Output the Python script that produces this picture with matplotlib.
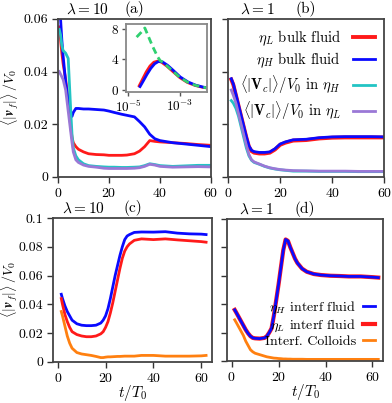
import numpy as np
import matplotlib
matplotlib.use('Agg')
import matplotlib.pyplot as plt
from matplotlib.ticker import FuncFormatter, NullLocator

plt.rcParams['font.family'] = 'serif'
plt.rcParams['font.serif'] = ['cmr10']
plt.rcParams['mathtext.fontset'] = 'cm'
plt.rcParams['axes.formatter.use_mathtext'] = True
plt.rcParams['font.size'] = 10

# colours
RED = '#ff1a1a'
BLUE = '#0a0aff'
CYAN = '#22c4c4'
PURP = '#9a78d6'
ORNG = '#ff8010'
GREEN = '#30d070'

# (a) lambda = 10, bulk
t_a = [0.5, 1, 1.5, 2, 3, 4, 5, 5.5, 6, 7, 8, 10, 12, 15, 18, 20, 22, 25, 27, 30, 32, 34, 36, 38, 40, 45, 50, 55, 60]
etaH_a = [0.066, 0.060, 0.052, 0.046, 0.036, 0.029, 0.0235, 0.023, 0.0245, 0.026, 0.026, 0.0258, 0.0258, 0.0256, 0.0254,
          0.025, 0.0245, 0.0238, 0.0234, 0.0228, 0.021, 0.019, 0.0162, 0.0145, 0.0138, 0.013, 0.0125, 0.012, 0.0115]
etaL_a = [0.057, 0.052, 0.047, 0.043, 0.037, 0.029, 0.019, 0.015, 0.013, 0.0115, 0.0105, 0.0095, 0.0088, 0.0085, 0.0084,
          0.0082, 0.0082, 0.0082, 0.0083, 0.0088, 0.0098, 0.0115, 0.0138, 0.0135, 0.0133, 0.013, 0.0127, 0.0123, 0.012]
VcH_a = [0.056, 0.054, 0.050, 0.048, 0.047, 0.045, 0.025, 0.016, 0.011, 0.008, 0.0065, 0.005, 0.0043, 0.004, 0.0038,
         0.0037, 0.0037, 0.0036, 0.0036, 0.0037, 0.0038, 0.0043, 0.005, 0.0047, 0.0043, 0.004, 0.0042, 0.0044, 0.0044]
VcL_a = [0.040, 0.039, 0.038, 0.037, 0.033, 0.025, 0.017, 0.013, 0.0095, 0.0065, 0.0055, 0.0045, 0.004, 0.0037, 0.0033,
         0.0032, 0.0032, 0.0032, 0.0032, 0.0033, 0.0035, 0.004, 0.0048, 0.0045, 0.004, 0.0037, 0.0038, 0.0039, 0.0038]

# inset of (a)
lx_ins = [-4.57, -4.45, -4.3, -4.15, -4.0, -3.85, -3.7, -3.5, -3.3, -3.0, -2.7, -2.4, -2.1, -1.9]
red_ins = [0.5, 1.3, 2.3, 3.1, 3.6, 3.75, 3.6, 3.1, 2.5, 1.6, 0.95, 0.55, 0.3, 0.2]
blue_ins = [0.4, 1.1, 2.0, 2.8, 3.4, 3.7, 3.65, 3.2, 2.6, 1.65, 1.0, 0.58, 0.32, 0.22]
lx_green = [-4.67, -4.5, -4.35, -4.25, -4.15, -4.05, -3.95, -3.85, -3.75, -3.65, -3.5, -3.3, -3.0, -2.7, -2.4, -2.1, -1.9]
green_ins = [6.9, 7.5, 8.1, 7.3, 6.5, 5.7, 5.0, 4.3, 3.8, 3.6, 3.15, 2.55, 1.65, 1.0, 0.58, 0.32, 0.22]

# (b) lambda = 1, bulk
t_b = [1.2, 2, 3, 4, 5, 6, 7, 8, 9, 10, 12, 14, 16, 18, 20, 22, 25, 30, 35, 40, 45, 50, 55, 60]
etaL_b = [0.037, 0.035, 0.031, 0.027, 0.023, 0.019, 0.015, 0.0115, 0.0098, 0.0092, 0.0089, 0.0089, 0.0092, 0.0104, 0.0122,
          0.013, 0.0138, 0.014, 0.0146, 0.0149, 0.015, 0.015, 0.015, 0.015]
etaH_b = [0.0373, 0.0353, 0.0313, 0.0273, 0.0233, 0.0193, 0.0153, 0.0118, 0.0101, 0.0096, 0.0093, 0.0093, 0.0095, 0.0107,
          0.0125, 0.0133, 0.0141, 0.0143, 0.0149, 0.0152, 0.0153, 0.0153, 0.0153, 0.0152]
VcH_b = [0.029, 0.028, 0.026, 0.023, 0.019, 0.015, 0.011, 0.008, 0.0063, 0.0055, 0.0048, 0.004, 0.0034, 0.003, 0.0027,
         0.0025, 0.0022, 0.0022, 0.0021, 0.0021, 0.0021, 0.002, 0.002, 0.002]
VcL_b = [0.033, 0.031, 0.028, 0.024, 0.020, 0.016, 0.012, 0.0085, 0.0065, 0.0057, 0.0049, 0.0041, 0.0035, 0.0031, 0.0028,
         0.0026, 0.0024, 0.0023, 0.0022, 0.0022, 0.0022, 0.0021, 0.0021, 0.0021]

# (c) lambda = 10, interface
t_c = [1.5, 2, 3, 4, 5, 6, 8, 10, 12, 14, 16, 18, 19, 20, 21, 22, 23, 24, 25, 26, 27, 28, 29, 30, 32, 35, 40, 45, 50, 55, 60, 62]
etaH_c = [0.047, 0.044, 0.039, 0.035, 0.032, 0.029, 0.0265, 0.0255, 0.0252, 0.0252, 0.0255, 0.027, 0.029, 0.032, 0.037,
          0.044, 0.052, 0.060, 0.067, 0.074, 0.080, 0.085, 0.0875, 0.0885, 0.090, 0.0903, 0.0902, 0.0905, 0.0895, 0.089,
          0.0888, 0.0885]
etaL_c = [0.044, 0.040, 0.033, 0.028, 0.024, 0.021, 0.019, 0.018, 0.0175, 0.0175, 0.018, 0.0195, 0.021, 0.024, 0.028,
          0.034, 0.041, 0.049, 0.057, 0.065, 0.072, 0.077, 0.080, 0.082, 0.0845, 0.0855, 0.085, 0.0855, 0.0848, 0.0842,
          0.0836, 0.0832]
coll_c = [0.035, 0.032, 0.025, 0.018, 0.013, 0.0095, 0.0065, 0.0055, 0.005, 0.0045, 0.0038, 0.003, 0.003, 0.0033, 0.0035,
          0.0035, 0.0036, 0.0037, 0.0038, 0.0038, 0.0039, 0.004, 0.004, 0.004, 0.004, 0.0045, 0.0045, 0.004, 0.004, 0.004,
          0.0042, 0.0045]

# (d) lambda = 1, interface
t_d = [1.3, 2, 3, 4, 5, 6, 7, 8, 9, 10, 12, 14, 15, 16, 17, 18, 19, 20, 21, 22, 23, 24, 25, 26, 27, 28, 30, 32, 35, 38,
       42, 46, 50, 55, 60, 62.5]
etaH_d = [0.036, 0.034, 0.031, 0.028, 0.025, 0.022, 0.0195, 0.0175, 0.0163, 0.016, 0.0158, 0.0163, 0.0175, 0.020, 0.023,
          0.032, 0.043, 0.054, 0.066, 0.078, 0.0855, 0.0845, 0.080, 0.076, 0.072, 0.069, 0.065, 0.0628, 0.0612, 0.0605,
          0.060, 0.0598, 0.0595, 0.0595, 0.059, 0.0587]
etaL_d = etaH_d
coll_d = [0.029, 0.027, 0.024, 0.021, 0.018, 0.014, 0.011, 0.008, 0.0065, 0.0055, 0.0045, 0.0035, 0.003, 0.0027, 0.0024,
          0.0021, 0.002, 0.0018, 0.0017, 0.0015, 0.0015, 0.0014, 0.0014, 0.0013, 0.0013, 0.0013, 0.0013, 0.0012, 0.0012,
          0.0012, 0.0012, 0.0012, 0.0012, 0.0012, 0.0012, 0.0012]

fig = plt.figure(figsize=(3.92, 4.03), dpi=100)
ax_a = fig.add_axes([0.148, 0.561, 0.390, 0.392])
ax_b = fig.add_axes([0.582, 0.561, 0.398, 0.392])
ax_c = fig.add_axes([0.135, 0.102, 0.406, 0.357])
ax_d = fig.add_axes([0.579, 0.104, 0.398, 0.353])

LW = 2.0
fmt = FuncFormatter(lambda v, p: '0' if abs(v) < 1e-12 else f'{v:g}')

ax_a.plot(t_a, etaL_a, color=RED, lw=LW)
ax_a.plot(t_a, etaH_a, color=BLUE, lw=LW)
ax_a.plot(t_a, VcH_a, color=CYAN, lw=LW)
ax_a.plot(t_a, VcL_a, color=PURP, lw=LW)

ax_b.plot(t_b, etaL_b, color=RED, lw=LW + 0.8, label=r'$\eta_L$ bulk fluid')
ax_b.plot(t_b, etaH_b, color=BLUE, lw=LW, label=r'$\eta_H$ bulk fluid')
ax_b.plot(t_b, VcH_b, color=CYAN, lw=LW, label=r'$\langle|\mathbf{V}_c|\rangle/V_0$ in $\eta_H$')
ax_b.plot(t_b, VcL_b, color=PURP, lw=LW, label=r'$\langle|\mathbf{V}_c|\rangle/V_0$ in $\eta_L$')

ax_c.plot(t_c, etaH_c, color=BLUE, lw=LW)
ax_c.plot(t_c, etaL_c, color=RED, lw=LW)
ax_c.plot(t_c, coll_c, color=ORNG, lw=LW)

l_red, = ax_d.plot(t_d, etaL_d, color=RED, lw=LW + 1.0, label=r'$\eta_L$ interf fluid')
l_blue, = ax_d.plot(t_d, etaH_d, color=BLUE, lw=LW, label=r'$\eta_H$ interf fluid')
l_or, = ax_d.plot(t_d, coll_d, color=ORNG, lw=LW, label='Interf. Colloids')

for ax in (ax_a, ax_b):
    ax.set_xlim(0, 60)
    ax.set_ylim(0, 0.06)
    ax.set_yticks([0, 0.02, 0.04, 0.06])
for ax in (ax_c, ax_d):
    ax.set_xlim(-2, 64.5)
    ax.set_ylim(0, 0.1)
    ax.set_yticks([0, 0.02, 0.04, 0.06, 0.08, 0.1])
    ax.set_xlabel(r'$t/T_0$', fontsize=11, labelpad=-1)
for ax in (ax_a, ax_b, ax_c, ax_d):
    ax.set_xticks([0, 20, 40, 60])
    ax.yaxis.set_major_formatter(fmt)
    ax.tick_params(length=4, width=1, color='#333333', pad=3, labelsize=10)
    for s in ax.spines.values():
        s.set_color('#444444')
        s.set_linewidth(1.3)
ax_b.tick_params(labelleft=False)
ax_d.tick_params(labelleft=False)

ylab = r'$\langle|\boldsymbol{v}_f|\rangle\,/V_0$'
ax_a.set_ylabel(ylab, fontsize=10)
ax_c.set_ylabel(ylab, fontsize=10)
ax_a.yaxis.set_label_coords(-0.245, 0.5)
ax_c.yaxis.set_label_coords(-0.208, 0.5)

for ax, lam, tag in ((ax_a, r'$\lambda=10$', '(a)'), (ax_b, r'$\lambda=1$', '(b)'),
                     (ax_c, r'$\lambda=10$', '(c)'), (ax_d, r'$\lambda=1$', '(d)')):
    ax.text(0.19, 1.015, lam, transform=ax.transAxes, ha='center', va='bottom', fontsize=11)
    ax.text(0.5, 1.015, tag, transform=ax.transAxes, ha='center', va='bottom', fontsize=11)

ax_b.legend(loc='upper right', bbox_to_anchor=(1.0, 1.0), frameon=False, markerfirst=False,
            handlelength=1.5, handletextpad=0.8, labelspacing=0.2, borderaxespad=0.25, fontsize=10.5)
ax_d.legend([l_blue, l_red, l_or], [l_blue.get_label(), l_red.get_label(), l_or.get_label()],
            loc='lower right', bbox_to_anchor=(1.0, 0.04), frameon=False, markerfirst=False,
            handlelength=0.9, handletextpad=0.5, labelspacing=0.08, borderaxespad=0.15, fontsize=10)

# inset
ins = fig.add_axes([0.321, 0.772, 0.207, 0.168])
ins.plot(10 ** np.array(lx_ins), red_ins, color=RED, lw=LW)
ins.plot(10 ** np.array(lx_ins) * 1.08, blue_ins, color=BLUE, lw=LW)
ins.plot(10 ** np.array(lx_green), green_ins, color=GREEN, lw=LW, ls=(0, (2.5, 1.5)))
ins.set_xscale('log')
ins.set_xlim(10 ** -5.09, 10 ** -1.93)
ins.set_ylim(-0.3, 8.6)
ins.set_xticks([1e-5, 1e-3])
ins.set_xticklabels([r'$10^{-5}$', r'$10^{-3}$'])
ins.xaxis.set_minor_locator(NullLocator())
ins.set_yticks([0, 4, 8])
ins.tick_params(length=3, width=1, color='#555555', pad=2, labelsize=9.5)
for s in ins.spines.values():
    s.set_color('#888888')
    s.set_linewidth(1.3)

fig.savefig('out.png', dpi=100)
